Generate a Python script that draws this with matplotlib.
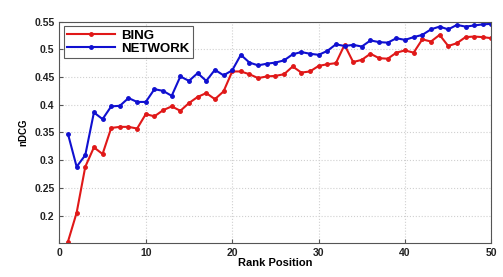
import numpy as np
import matplotlib
matplotlib.use("Agg")
import matplotlib.pyplot as plt

# Rank positions 1..50
rank = list(range(1, 51))

# nDCG values
bing = [0.153, 0.205, 0.288, 0.323, 0.311, 0.358, 0.360, 0.360, 0.357, 0.383,
        0.379, 0.390, 0.397, 0.389, 0.403, 0.414, 0.421, 0.410, 0.424, 0.460,
        0.460, 0.455, 0.448, 0.451, 0.452, 0.455, 0.469, 0.458, 0.460, 0.470,
        0.473, 0.475, 0.508, 0.477, 0.481, 0.492, 0.484, 0.483, 0.494, 0.498,
        0.494, 0.518, 0.514, 0.526, 0.506, 0.511, 0.522, 0.523, 0.522, 0.520]
network = [0.347, 0.288, 0.309, 0.386, 0.374, 0.397, 0.398, 0.412, 0.405, 0.405,
           0.428, 0.425, 0.416, 0.451, 0.443, 0.457, 0.443, 0.463, 0.453, 0.462,
           0.490, 0.476, 0.471, 0.474, 0.476, 0.480, 0.491, 0.495, 0.492, 0.490,
           0.497, 0.509, 0.506, 0.508, 0.505, 0.516, 0.513, 0.512, 0.520, 0.517,
           0.522, 0.526, 0.536, 0.541, 0.536, 0.544, 0.541, 0.543, 0.545, 0.546]

xticks = [0, 10, 20, 30, 40, 50]
yticks = [0.2, 0.25, 0.3, 0.35, 0.4, 0.45, 0.5, 0.55]

plt.rcParams['font.family'] = ['Liberation Sans', 'DejaVu Sans']
plt.rcParams['font.weight'] = 'bold'

fig = plt.figure(figsize=(5.03, 2.77), dpi=100)
ax = fig.add_axes([0.118, 0.122, 0.859, 0.800])

ax.plot(rank, bing, color='#e01818', marker='.', markersize=5, linewidth=1.5, label='BING')
ax.plot(rank, network, color='#1010d0', marker='.', markersize=5, linewidth=1.5, label='NETWORK')

ax.set_xlim(0, 50)
ax.set_ylim(0.15, 0.55)
ax.set_xticks(xticks)
ax.set_yticks(yticks)
ax.set_yticklabels([f"{t:g}" for t in yticks])
ax.tick_params(direction='in', length=3, labelsize=7.5, colors='#555555', labelcolor='#222222')
for lab in ax.get_xticklabels() + ax.get_yticklabels():
    lab.set_fontweight('bold')
ax.grid(True, linestyle=':', color='#d0d0d0', linewidth=0.8)
for sp in ax.spines.values():
    sp.set_color('#555555')
    sp.set_linewidth(0.8)

ax.set_xlabel('Rank Position', fontsize=8, fontweight='bold', labelpad=0)
ax.set_ylabel('nDCG', fontsize=7, fontweight='bold', labelpad=4)

leg = ax.legend(loc='upper left', fontsize=9.5, frameon=True, fancybox=False,
                borderaxespad=0.35, handlelength=3.6, handletextpad=0.5,
                borderpad=0.25, labelspacing=0.05)
leg.get_frame().set_edgecolor('#333333')
leg.get_frame().set_linewidth(0.8)
for t in leg.get_texts():
    t.set_fontweight('bold')

fig.savefig('out.png', dpi=100)
